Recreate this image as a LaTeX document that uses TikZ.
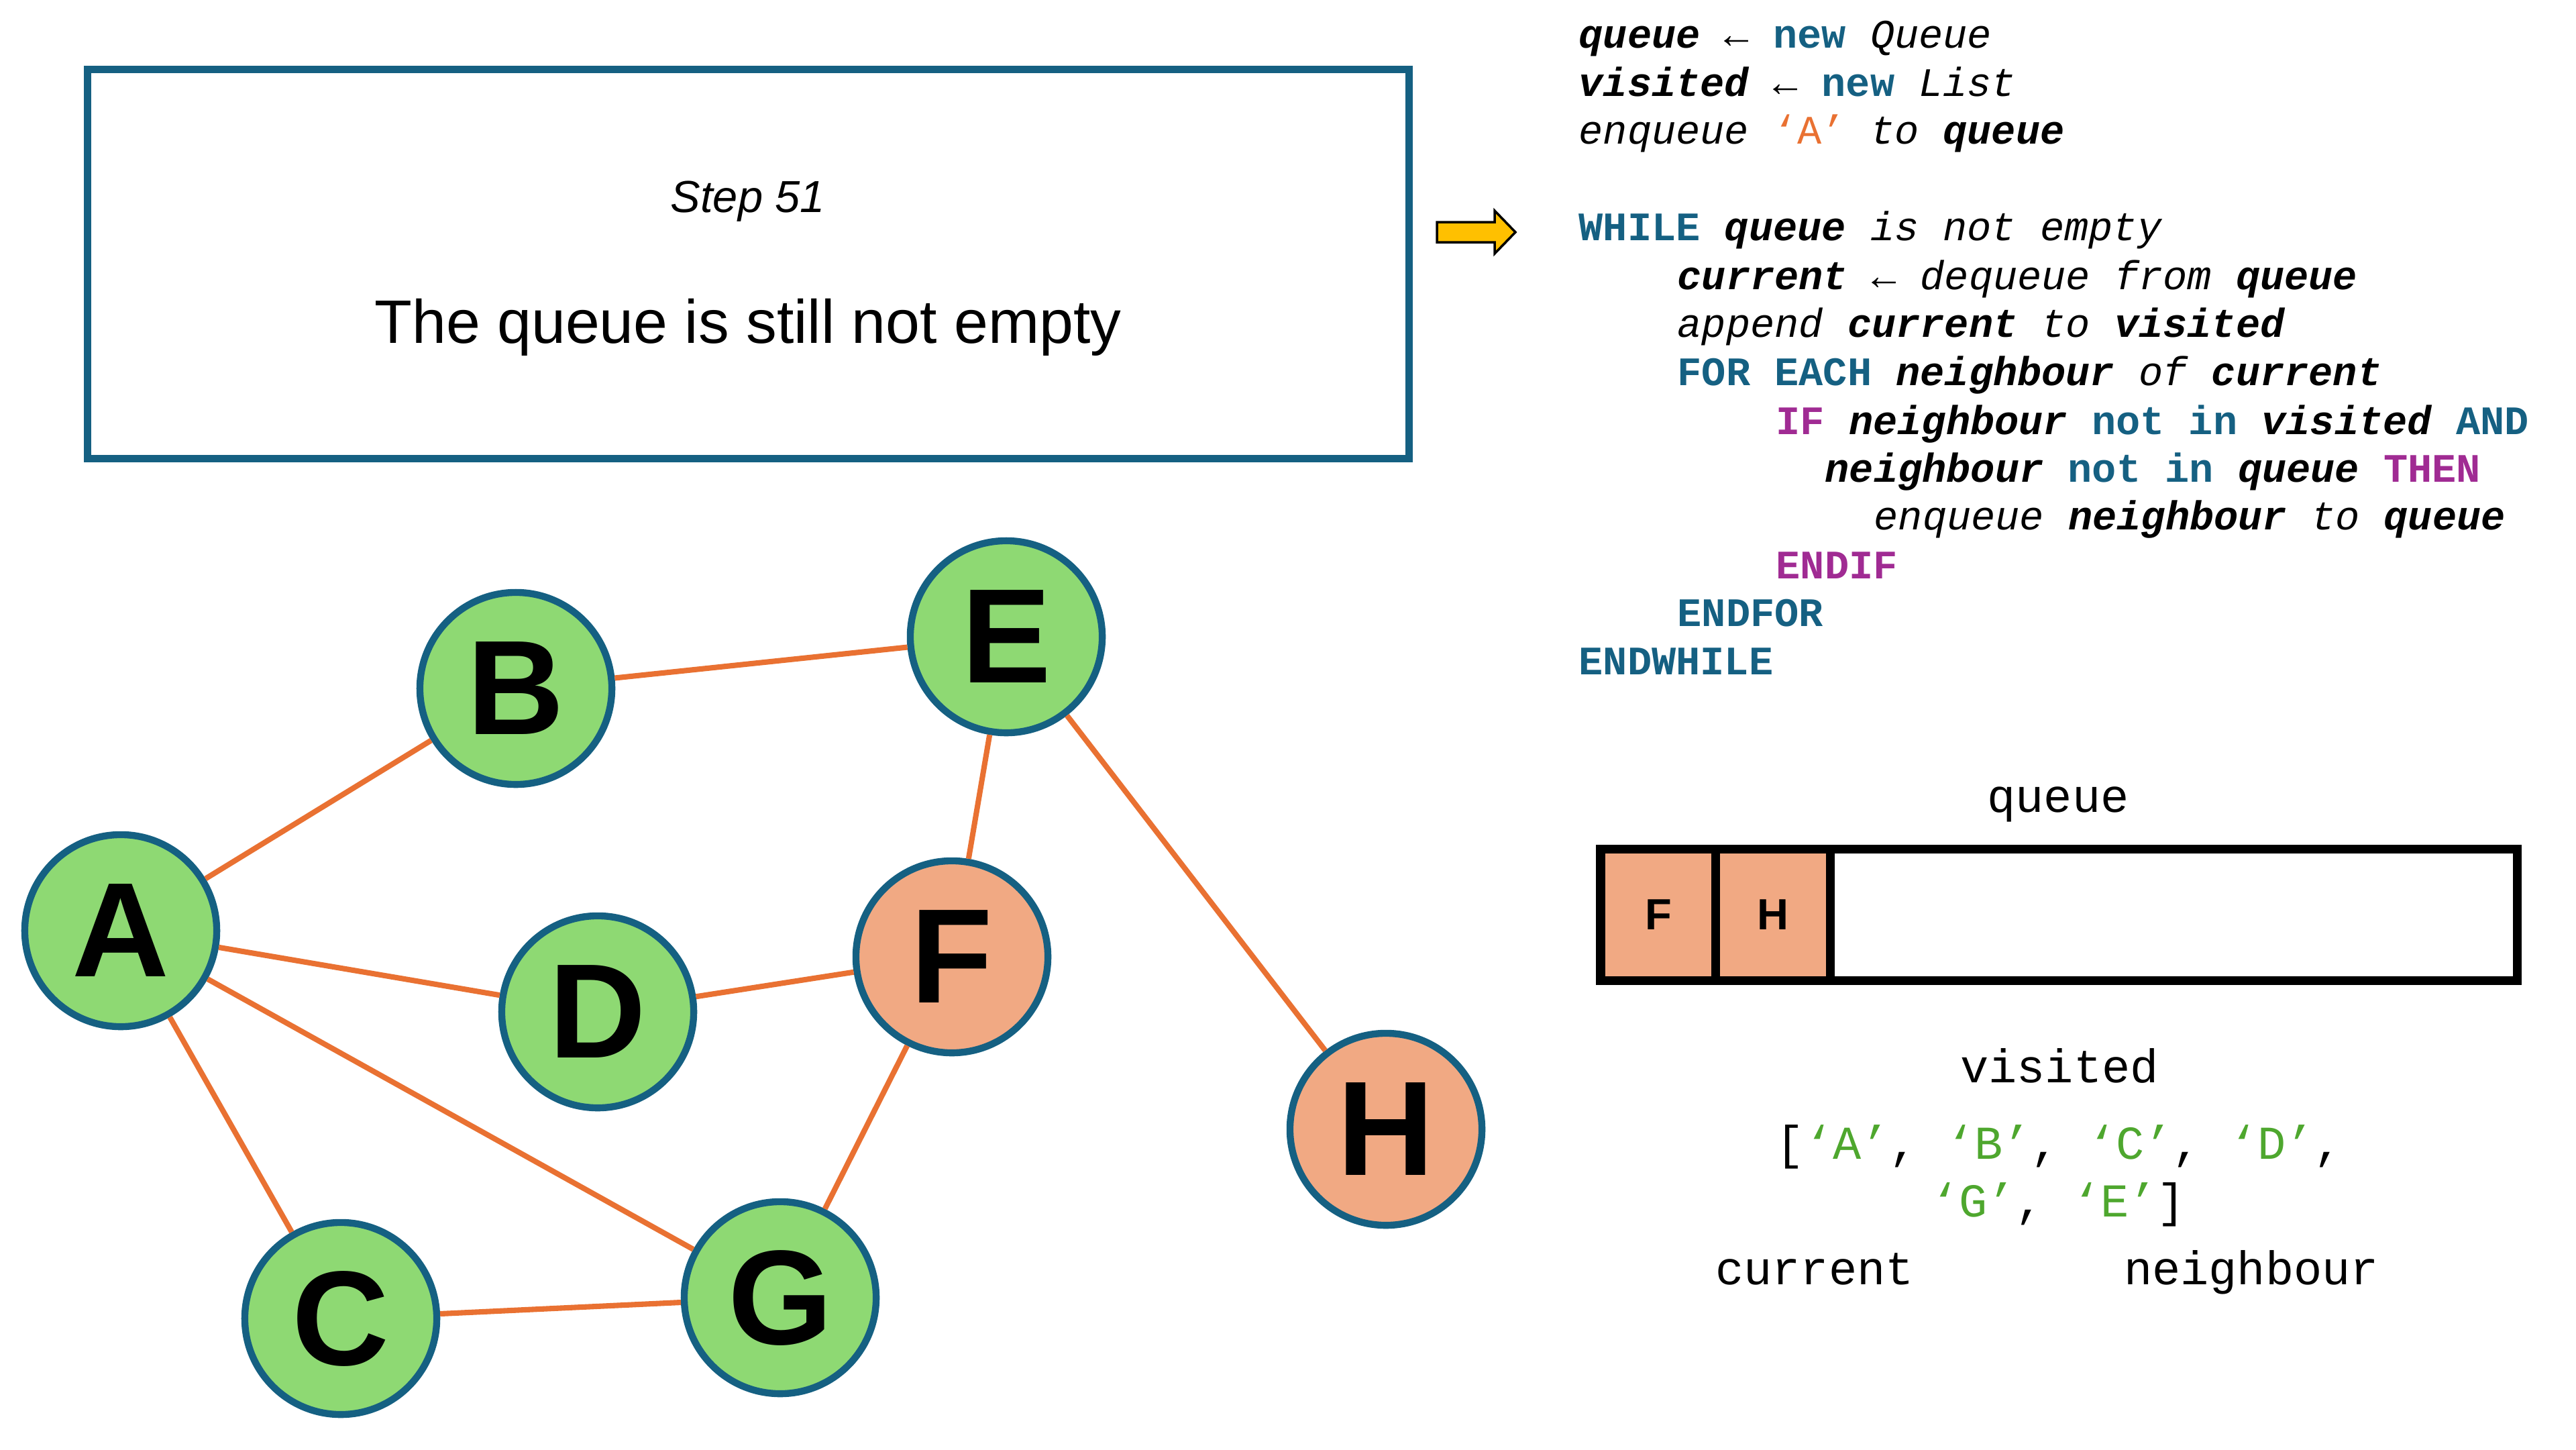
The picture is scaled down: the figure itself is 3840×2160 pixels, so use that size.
\documentclass[tikz,border=0pt]{standalone}
\usepackage{fontspec}
\setmainfont{Liberation Sans}
\newfontfamily\codemono{Liberation Mono}
\definecolor{nodeline}{HTML}{156082}
\definecolor{visitgreen}{HTML}{8ED973}
\definecolor{queueorange}{HTML}{F1A983}
\definecolor{edgeorange}{HTML}{E97132}
\definecolor{kwblue}{HTML}{156082}
\definecolor{kwpurple}{HTML}{A02B93}
\definecolor{listgreen}{HTML}{4EA72E}
\definecolor{arrowyellow}{HTML}{FFC000}
\newcommand\codefont{\codemono\fontsize{17.15}{20}\selectfont}
\newcommand\datafont{\codemono\fontsize{20}{24}\selectfont}
\newcommand\cvar[1]{{\bfseries\itshape #1}}
\newcommand\ckw[1]{{\bfseries\color{kwblue}#1}}
\newcommand\ccond[1]{{\bfseries\color{kwpurple}#1}}
\newcommand\ctxt[1]{{\itshape #1}}
\newcommand\vis[1]{{\color{listgreen}#1}}
\tikzset{
  vertex/.style={circle,draw=nodeline,line width=2.95pt,minimum size=2.86cm,inner sep=0pt,font=\fontsize{57}{60}\selectfont\bfseries},
  seen/.style={vertex,fill=visitgreen},
  waiting/.style={vertex,fill=queueorange},
  link/.style={draw=edgeorange,line width=2.3pt},
  codeline/.style={anchor=base west,inner sep=0pt,font=\codefont},
  datalabel/.style={anchor=base,inner sep=0pt,font=\datafont},
  cell/.style={draw=black,fill=queueorange,line width=3.7pt,minimum width=1.71cm,minimum height=1.95cm,inner sep=0pt,font=\fontsize{18.5}{20}\selectfont\bfseries}
}
\begin{document}
\begin{tikzpicture}[x=0.01cm,y=-0.01cm]
\useasboundingbox (0,0) rectangle (3840,2160);
% step box
\node[draw=nodeline,line width=3.1pt,minimum width=19.69cm,minimum height=5.79cm] (stepbox) at (1115.5,393.5) {};
\node[anchor=base,inner sep=0pt,font=\fontsize{19}{22}\selectfont\itshape] (steplabel) at (1115,316) {Step 51};
\node[anchor=base,inner sep=0pt,font=\fontsize{26}{30}\selectfont] (steptext) at (1115,511) {The queue is still not empty};
\draw[fill=arrowyellow,line width=1pt] (2142,331) -- (2228,331) -- (2228,314) -- (2259,346) -- (2228,378) -- (2228,361) -- (2142,361) -- cycle;
% graph
\node[seen] (A) at (180,1387) {A};
\node[seen] (B) at (769,1026) {B};
\node[seen] (E) at (1500,949) {E};
\node[seen] (D) at (891,1508) {D};
\node[waiting] (F) at (1419,1426) {F};
\node[waiting] (H) at (2066,1683) {H};
\node[seen] (C) at (508,1965) {C};
\node[seen] (G) at (1163,1934) {G};
\foreach \u/\v in {A/B,B/E,A/D,D/F,A/G,A/C,C/G,G/F,F/E,E/H}
  \draw[link] (\u) -- (\v);
% pseudocode
\node[codeline] (code1) at (2353,71) {\cvar{queue} ← \ckw{new} \ctxt{Queue}};
\node[codeline] (code2) at (2353,143) {\cvar{visited} ← \ckw{new} \ctxt{List}};
\node[codeline] (code3) at (2353,214) {\ctxt{enqueue} {\color{edgeorange}‘A’} \ctxt{to} \cvar{queue}};
\node[codeline] (code4) at (2353,358) {\ckw{WHILE} \cvar{queue} \ctxt{is not empty}};
\node[codeline] (code5) at (2500,431) {\cvar{current} ← \ctxt{dequeue from} \cvar{queue}};
\node[codeline] (code6) at (2500,502) {\ctxt{append} \cvar{current} \ctxt{to} \cvar{visited}};
\node[codeline] (code7) at (2500,574) {\ckw{FOR EACH} \cvar{neighbour} \ctxt{of} \cvar{current}};
\node[codeline] (code8) at (2647,647) {\ccond{IF} \cvar{neighbour} \ckw{not in} \cvar{visited} \ckw{AND}};
\node[codeline] (code9) at (2720,718) {\cvar{neighbour} \ckw{not in} \cvar{queue} \ccond{THEN}};
\node[codeline] (code10) at (2793,789) {\ctxt{enqueue} \cvar{neighbour} \ctxt{to} \cvar{queue}};
\node[codeline] (code11) at (2647,862) {\ccond{ENDIF}};
\node[codeline] (code12) at (2500,933) {\ckw{ENDFOR}};
\node[codeline] (code13) at (2353,1005) {\ckw{ENDWHILE}};
% queue and visited
\node[datalabel] (queuelabel) at (3068,1210) {queue};
\node[draw,line width=3.7pt,minimum width=13.66cm,minimum height=1.95cm,inner sep=0pt] (queuebox) at (3069,1363.5) {};
\node[cell] (cellF) at (2472,1363.5) {F};
\node[cell] (cellH) at (2643,1363.5) {H};
\node[datalabel] (visitedlabel) at (3070,1613) {visited};
\node[datalabel] (visited1) at (3070,1727) {{[}\vis{‘A’}, \vis{‘B’}, \vis{‘C’}, \vis{‘D’},};
\node[datalabel] (visited2) at (3068,1813) {\vis{‘G’}, \vis{‘E’}{]}};
\node[datalabel] (currentlabel) at (2705,1914) {current};
\node[datalabel] (neighbourlabel) at (3356,1914) {neighbour};
\end{tikzpicture}
\end{document}
